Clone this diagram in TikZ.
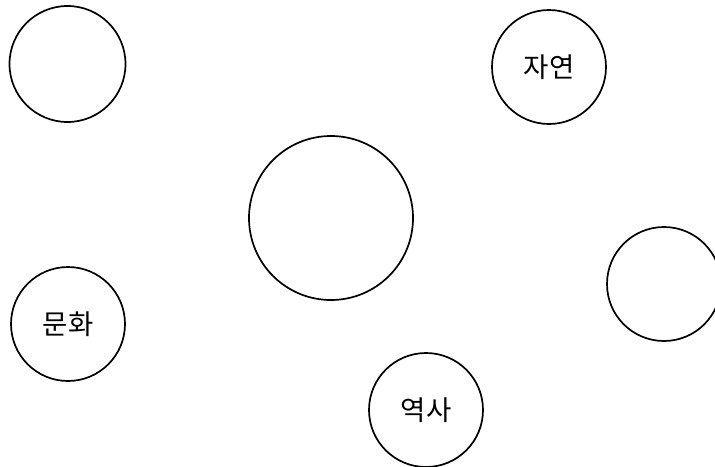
\documentclass[tikz,border=0pt]{standalone}
\usepackage{fontspec}
\newfontfamily\kr{Noto Sans CJK KR}
\begin{document}
\begin{tikzpicture}[x=1pt,y=-1pt,
  bubble/.style={circle,draw=black,line width=1.7pt,fill=white,inner sep=0pt,font=\kr\fontsize{27.5}{30}\selectfont}]
\useasboundingbox (0,0) rectangle (715,466);
\clip (0,0) rectangle (715,466);
\node[bubble,minimum size=116pt] (a) at (67.5,64) {};
\node[bubble,minimum size=114pt] (b) at (549,67) {자연};
\node[bubble,minimum size=164pt] (c) at (331,218) {};
\node[bubble,minimum size=114pt] (d) at (664,284) {};
\node[bubble,minimum size=114pt] (e) at (68,324) {문화};
\node[bubble,minimum size=114pt] (f) at (426,410) {역사};
\end{tikzpicture}
\end{document}
